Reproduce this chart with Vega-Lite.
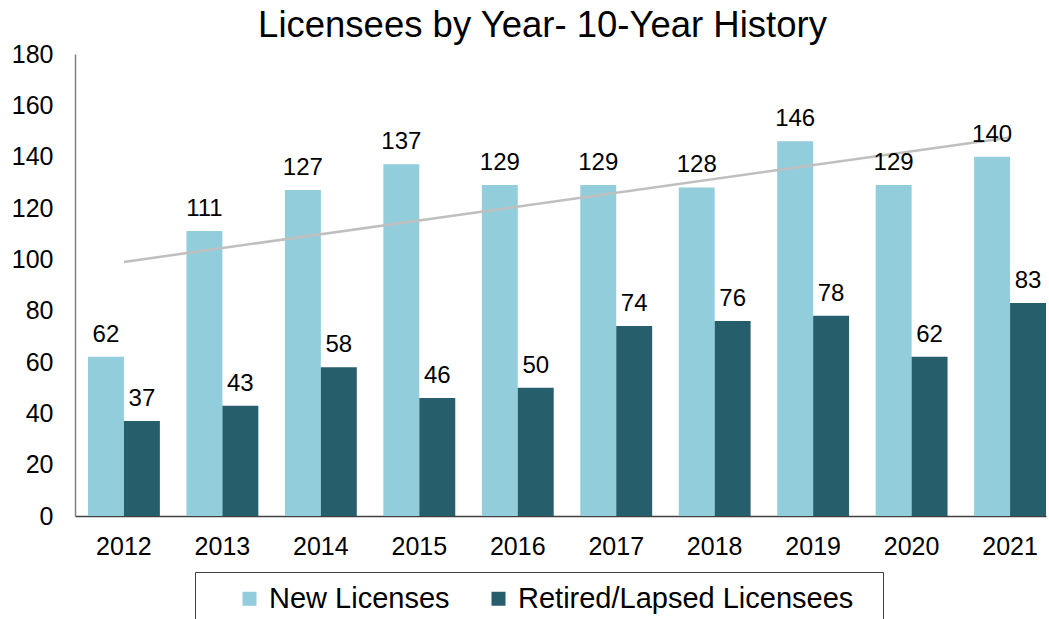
{
  "$schema": "https://vega.github.io/schema/vega-lite/v6.json",
  "width": 971,
  "height": 462,
  "autosize": {"type": "none"},
  "padding": {"left": 75, "top": 54, "right": 3, "bottom": 103},
  "background": "white",
  "title": {
    "text": "Licensees by Year- 10-Year History",
    "font": "Liberation Sans",
    "fontSize": 36.5,
    "fontWeight": "normal",
    "color": "#000000",
    "anchor": "middle",
    "baseline": "alphabetic",
    "offset": -31,
    "dx": -18
  },
  "datasets": {
    "bars": [
      {"year": "2012", "series": "New Licenses", "value": 62},
      {"year": "2012", "series": "Retired/Lapsed Licensees", "value": 37},
      {"year": "2013", "series": "New Licenses", "value": 111},
      {"year": "2013", "series": "Retired/Lapsed Licensees", "value": 43},
      {"year": "2014", "series": "New Licenses", "value": 127},
      {"year": "2014", "series": "Retired/Lapsed Licensees", "value": 58},
      {"year": "2015", "series": "New Licenses", "value": 137},
      {"year": "2015", "series": "Retired/Lapsed Licensees", "value": 46},
      {"year": "2016", "series": "New Licenses", "value": 129},
      {"year": "2016", "series": "Retired/Lapsed Licensees", "value": 50},
      {"year": "2017", "series": "New Licenses", "value": 129},
      {"year": "2017", "series": "Retired/Lapsed Licensees", "value": 74},
      {"year": "2018", "series": "New Licenses", "value": 128},
      {"year": "2018", "series": "Retired/Lapsed Licensees", "value": 76},
      {"year": "2019", "series": "New Licenses", "value": 146},
      {"year": "2019", "series": "Retired/Lapsed Licensees", "value": 78},
      {"year": "2020", "series": "New Licenses", "value": 129},
      {"year": "2020", "series": "Retired/Lapsed Licensees", "value": 62},
      {"year": "2021", "series": "New Licenses", "value": 140},
      {"year": "2021", "series": "Retired/Lapsed Licensees", "value": 83}
    ],
    "trend": [
      {"year": "2012", "trend": 99},
      {"year": "2021", "trend": 147.5}
    ]
  },
  "encoding": {
    "x": {
      "field": "year",
      "type": "ordinal",
      "scale": {
        "domain": ["2012", "2013", "2014", "2015", "2016", "2017", "2018", "2019", "2020", "2021"],
        "paddingInner": 0.27,
        "paddingOuter": 0.066,
        "align": 1
      },
      "axis": {
        "title": null,
        "labelAngle": 0,
        "labelFont": "Liberation Sans",
        "labelFontSize": 25,
        "labelColor": "#000000",
        "labelPadding": 18,
        "ticks": false,
        "domainColor": "#404040",
        "domainWidth": 1.5
      }
    }
  },
  "layer": [
    {
      "data": {"name": "bars"},
      "mark": {"type": "bar"},
      "encoding": {
        "y": {
          "field": "value",
          "type": "quantitative",
          "scale": {"domain": [0, 180], "nice": false},
          "axis": {
            "title": null,
            "values": [0, 20, 40, 60, 80, 100, 120, 140, 160, 180],
            "grid": false,
            "ticks": false,
            "labelFont": "Liberation Sans",
            "labelFontSize": 25,
            "labelColor": "#000000",
            "labelPadding": 22,
            "domainColor": "#808080",
            "domainWidth": 1.5
          }
        },
        "xOffset": {"field": "series", "type": "nominal", "scale": {"paddingInner": 0, "paddingOuter": 0}},
        "color": {
          "field": "series",
          "type": "nominal",
          "scale": {
            "domain": ["New Licenses", "Retired/Lapsed Licensees"],
            "range": ["#92CDDC", "#265E6C"]
          },
          "legend": {
            "title": " ",
            "titleOrient": "right",
            "titleFontSize": 60,
            "titlePadding": 18,
            "orient": "none",
            "direction": "horizontal",
            "legendX": 120,
            "legendY": 518,
            "symbolType": "square",
            "symbolSize": 196,
            "symbolStrokeWidth": 0,
            "symbolOffset": 28,
            "labelFont": "Liberation Sans",
            "labelFontSize": 29,
            "labelColor": "#000000",
            "labelOffset": 5,
            "columnPadding": 6,
            "padding": 12,
            "strokeColor": "#404040",
            "fillColor": "white",
            "labelLimit": 500
          }
        }
      }
    },
    {
      "data": {"name": "trend"},
      "mark": {"type": "line", "color": "#BFBFBF", "strokeWidth": 2.5},
      "encoding": {
        "y": {"field": "trend", "type": "quantitative"}
      }
    },
    {
      "data": {"name": "bars"},
      "mark": {
        "type": "text",
        "font": "Liberation Sans",
        "fontSize": 24,
        "color": "#000000",
        "baseline": "alphabetic",
        "dy": -15
      },
      "encoding": {
        "y": {"field": "value", "type": "quantitative"},
        "xOffset": {"field": "series", "type": "nominal", "scale": {"paddingInner": 0, "paddingOuter": 0}},
        "text": {"field": "value", "type": "quantitative"}
      }
    }
  ],
  "config": {
    "view": {"stroke": null}
  }
}
